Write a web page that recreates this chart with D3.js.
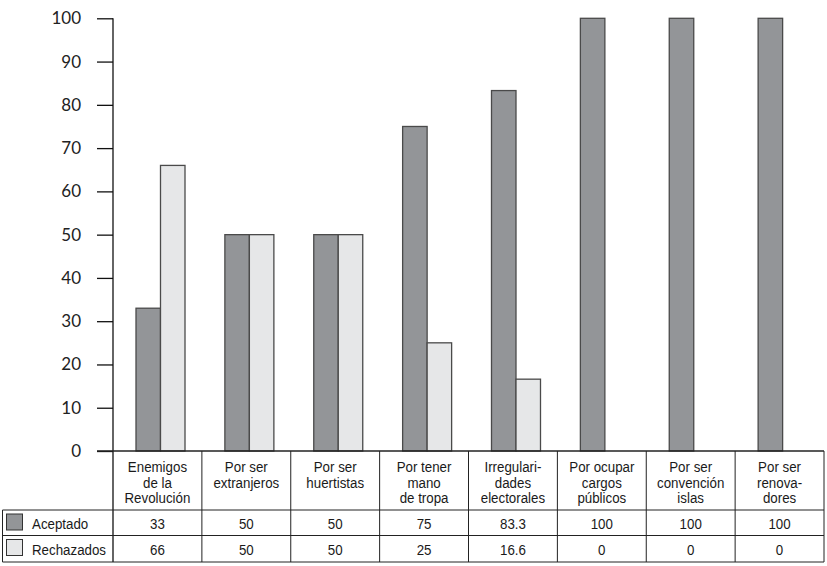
<!DOCTYPE html>
<html><head><meta charset="utf-8">
<script src="https://cdn.jsdelivr.net/npm/d3@7"></script>
<style>
html,body{margin:0;padding:0;background:#fff;}
svg{display:block;}
.tbl{font-family:"Liberation Sans","Arial",sans-serif;font-size:15.5px;fill:#1a1a1a;}
.ytick{font-family:"Lato","Noto Sans",sans-serif;font-size:17px;fill:#222;}
</style>
</head><body>
<svg id="c" width="827" height="566"></svg>
<script>
const categories = [
  ["Enemigos","de la","Revolución"],
  ["Por ser","extranjeros"],
  ["Por ser","huertistas"],
  ["Por tener","mano","de tropa"],
  ["Irregulari-","dades","electorales"],
  ["Por ocupar","cargos","públicos"],
  ["Por ser","convención","islas"],
  ["Por ser","renova-","dores"]
];
const seriesNames = ["Aceptado","Rechazados"];
const aceptado   = [33, 50, 50, 75, 83.3, 100, 100, 100];
const rechazados = [66, 50, 50, 25, 16.6, 0, 0, 0];
const aceptadoLabels   = ["33","50","50","75","83.3","100","100","100"];
const rechazadosLabels = ["66","50","50","25","16.6","0","0","0"];
const yTicks = [0,10,20,30,40,50,60,70,80,90,100];

const fills = {"Aceptado":"#939598","Rechazados":"#e6e7e8"};
const strokes = {"Aceptado":"#4a4a4a","Rechazados":"#4a4a4a"};
const SX = 0.86; // horizontal condensing of table text

const svg = d3.select("#c");
const keys = categories.map((c,i)=>"c"+i);
const x = d3.scaleBand().domain(keys).range([113, 824]).padding(0);
const x1 = d3.scaleBand().domain(seriesNames).range([23, 72]).padding(0);
const y = d3.scaleLinear().domain([0,100]).range([451, 18.3]);

const series = {"Aceptado":aceptado,"Rechazados":rechazados};

// bars
seriesNames.forEach(s=>{
  svg.append("g").selectAll("rect")
    .data(series[s].map((v,i)=>({v,i})).filter(d=>d.v>0))
    .join("rect")
    .attr("x", d=>x(keys[d.i]) + x1(s))
    .attr("y", d=>y(d.v))
    .attr("width", x1.bandwidth())
    .attr("height", d=>y(0)-y(d.v))
    .attr("fill", fills[s])
    .attr("stroke", strokes[s])
    .attr("stroke-width", 1.3);
});

// y axis
const yAxis = d3.axisLeft(y).tickValues(yTicks).tickSize(16).tickPadding(16).tickFormat(d3.format("d"));
const gy = svg.append("g").attr("transform","translate(113,0)").call(yAxis);
gy.select(".domain").remove();
gy.selectAll(".tick line").attr("stroke","#111").attr("stroke-width",1.3);
gy.selectAll(".tick text").attr("class","ytick").attr("font-family",null).attr("font-size",null).attr("fill",null);
svg.append("line").attr("x1",113).attr("x2",113).attr("y1",y(100)).attr("y2",562).attr("stroke","#111").attr("stroke-width",1.3);

// table lines
const rowTop = 451, rowA = 510, rowR = 535.5, rowB = 562;
const line = (x1_,y1_,x2_,y2_,w)=>svg.append("line").attr("x1",x1_).attr("y1",y1_).attr("x2",x2_).attr("y2",y2_).attr("stroke","#222").attr("stroke-width",w||1);
line(97, rowTop, 824, rowTop, 1.3);
line(2.5, rowA, 824, rowA);
line(2.5, rowR, 824, rowR);
line(2.5, rowB, 824, rowB);
line(2.5, rowA, 2.5, rowB);
keys.forEach((k,i)=>{ if(i>0) line(x(k), rowTop, x(k), rowB); });
line(824, rowTop, 824, rowB);

const ctext = (g, tx, ty, t, anchor)=>g.append("text").attr("class","tbl")
  .attr("transform",`translate(${tx},${ty}) scale(${SX},1)`)
  .attr("text-anchor",anchor||"middle").text(t);

// header labels
const hg = svg.append("g");
categories.forEach((lines,i)=>{
  const cx = x(keys[i]) + x.bandwidth()/2;
  lines.forEach((t,j)=>ctext(hg, cx, 472+j*15.5, t));
});
// value rows
[[aceptadoLabels, 528.5],[rechazadosLabels, 555]].forEach(([labs,by])=>{
  labs.forEach((t,i)=>ctext(svg, x(keys[i]) + x.bandwidth()/2, by, t));
});
// legend
seriesNames.forEach((s,j)=>{
  const top = j===0 ? rowA : rowR;
  svg.append("rect").attr("x",6.5).attr("y",top+4).attr("width",16).attr("height",16)
    .attr("fill",fills[s]).attr("stroke","#333").attr("stroke-width",1);
  ctext(svg, 32, j===0?528.5:555, s, "start");
});
</script>
</body></html>
